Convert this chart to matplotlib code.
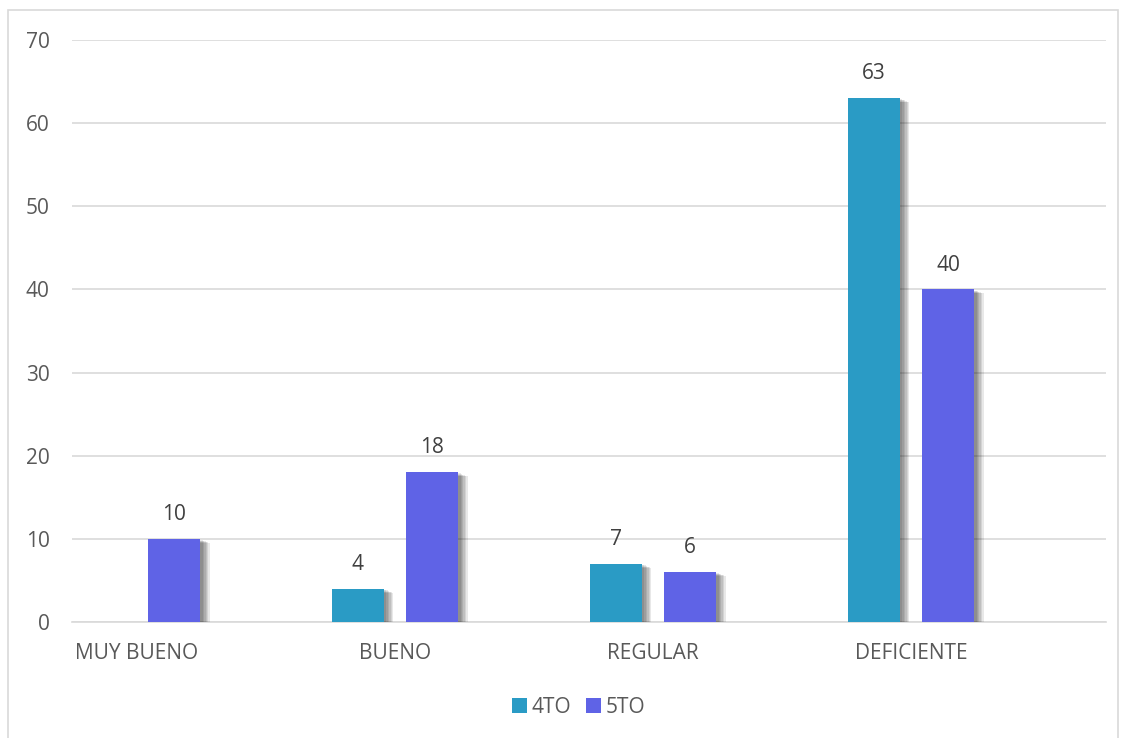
import matplotlib.pyplot as plt
import matplotlib.patheffects as pe
from matplotlib.patches import Rectangle, Patch
import numpy as np

# Data
categories = ["MUY BUENO", "BUENO", "REGULAR", "DEFICIENTE"]
series_names = ["4TO", "5TO"]
values_4to = [None, 4, 7, 63]
values_5to = [10, 18, 6, 40]
colors = ["#2A9BC5", "#5F63E6"]

plt.rcParams['font.family'] = ['Open Sans', 'DejaVu Sans']
text_color = "#595959"

fig = plt.figure(figsize=(11.26, 7.38), dpi=100)
ax = fig.add_axes([72 / 1126, 1 - 622 / 738, 1034 / 1126, 582 / 738])

# chart border
fig.patches.append(Rectangle((8 / 1126, -0.01), 1110 / 1126, 1 - 10 / 738 + 0.01,
                             transform=fig.transFigure, fill=False,
                             edgecolor="#D9D9D9", linewidth=1.2, zorder=0))

x = np.arange(len(categories))
width = 0.2
offsets = [-0.144, 0.144]

# soft drop shadow, built from a few translucent copies
shadow = [pe.SimplePatchShadow(offset=(o, -o * 0.4), shadow_rgbFace="#000000", alpha=0.09)
          for o in (7, 6, 5, 4, 3, 2)] + [pe.Normal()]

for vals, off, col, name in zip([values_4to, values_5to], offsets, colors, series_names):
    v = np.array([np.nan if a is None else a for a in vals], dtype=float)
    bars = ax.bar(x + off, np.nan_to_num(v), width, color=col, zorder=3)
    for b, val in zip(bars, v):
        if np.isnan(val):
            b.set_visible(False)
            continue
        b.set_path_effects(shadow)
        ax.annotate(f"{int(val)}", (b.get_x() + b.get_width() / 2, val),
                    xytext=(0, 10), textcoords="offset points", ha="center",
                    va="bottom", fontsize=15, color="#404040")

ax.set_xlim(-0.252, 3.756)
ax.set_ylim(0, 70)
ax.set_yticks(range(0, 71, 10))
ax.yaxis.grid(True, color="#D9D9D9", linewidth=1.2, zorder=0)
ax.set_axisbelow(True)
for s in ax.spines.values():
    s.set_visible(False)
ax.spines['bottom'].set_visible(True)
ax.spines['bottom'].set_color("#D9D9D9")
ax.spines['bottom'].set_linewidth(1.2)
ax.tick_params(length=0, labelsize=15, colors=text_color)
ax.tick_params(axis='y', pad=16)
ax.tick_params(axis='x', pad=15)
ax.set_xticks(x)
ax.set_xticklabels(categories)

handles = [Patch(facecolor=c, label=n) for c, n in zip(colors, series_names)]
leg = ax.legend(handles=handles, loc="center", bbox_to_anchor=(0.49, -0.147), ncol=2,
                frameon=False, fontsize=15, handlelength=0.7, handleheight=0.7,
                handletextpad=0.25, columnspacing=0.7)
for t in leg.get_texts():
    t.set_color(text_color)

fig.savefig("out.png", dpi=100, facecolor="white")
